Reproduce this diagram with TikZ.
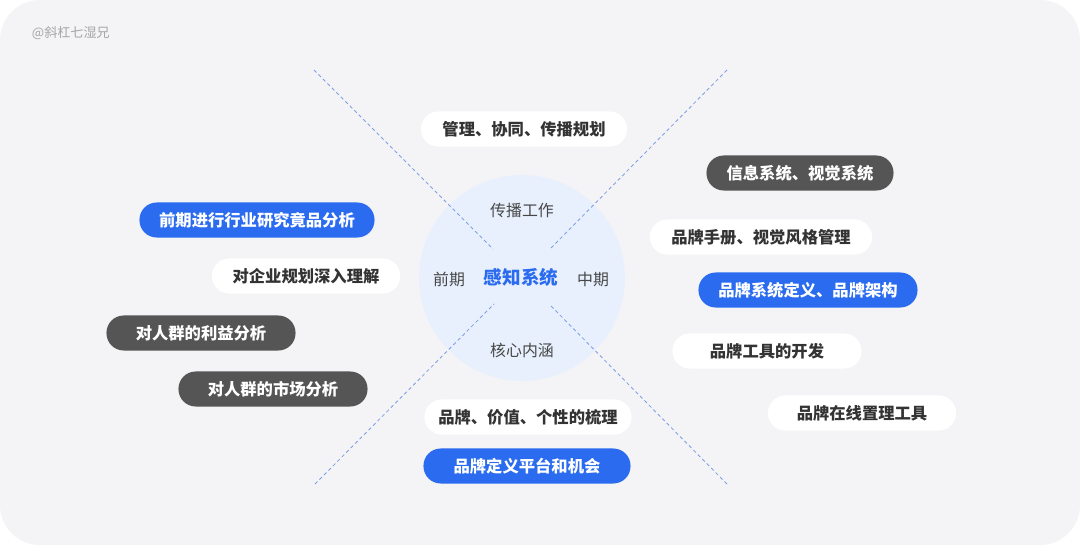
\documentclass[tikz,border=0pt]{standalone}
\usepackage{fontspec}
\setmainfont{Noto Sans CJK SC}
\usepackage{tikz}
\definecolor{bg}{HTML}{F4F4F6}
\definecolor{blu}{HTML}{2A6BEF}
\definecolor{drk}{HTML}{555555}
\definecolor{txt}{HTML}{333333}
\definecolor{ring}{HTML}{E8F0FD}
\definecolor{dashc}{HTML}{7E9FE4}

\begin{document}
\begin{tikzpicture}[x=0.025cm,y=-0.025cm,
	pill/.style={rounded corners=0.43cm,minimum height=0.875cm,inner sep=0pt,font=\fontsize{11.6}{12}\selectfont\bfseries},
	wpill/.style={pill,fill=white,text=txt},
	bpill/.style={pill,fill=blu,text=white},
	dpill/.style={pill,fill=drk,text=white},
	lbl/.style={text=txt!90,font=\fontsize{11.3}{12}\selectfont},
	spoke/.style={dashc,dashed,dash pattern=on 2.5pt off 2pt,line width=0.6pt}]
		\useasboundingbox (0,0) rectangle (1080,545);
		\fill[white] (0,0) rectangle (1080,545);
		\fill[bg,rounded corners=1cm] (0,0) rectangle (1080,545);
		\node[text=gray!70,font=\fontsize{9.3}{10}\selectfont,anchor=west] (mark) at (27,33) {@斜杠七湿兄};
		% center
		\node[circle,fill=ring,minimum size=5.15cm,inner sep=0pt] (hub) at (522,278) {};
		\coordinate (tl) at (314,70);
		\coordinate (tr) at (727,70);
		\coordinate (bl) at (315,484);
		\coordinate (br) at (727,484);
		\coordinate (tli) at (493,249);
		\coordinate (tri) at (551,248);
		\coordinate (bli) at (494,304);
		\coordinate (bri) at (551,306);
		\draw[spoke] (tl) -- (tli);
		\draw[spoke] (tr) -- (tri);
		\draw[spoke] (bl) -- (bli);
		\draw[spoke] (br) -- (bri);
		\node[text=blu,font=\fontsize{13.2}{14}\selectfont\bfseries] (core) at (521,277) {感知系统};
		\node[lbl] (top) at (522,210) {传播工作};
		\node[lbl] (left) at (449,279) {前期};
		\node[lbl] (right) at (593,279) {中期};
		\node[lbl] (bottom) at (522,350) {核心内涵};
		% top
		\node[wpill,minimum width=5.15cm] (t1) at (524,129) {管理、协同、传播规划};
		% left
		\node[bpill,minimum width=5.875cm] (l1) at (257,220) {前期进行行业研究竟品分析};
		\node[wpill,minimum width=4.7cm] (l2) at (306,276) {对企业规划深入理解};
		\node[dpill,minimum width=4.725cm] (l3) at (201,333) {对人群的利益分析};
		\node[dpill,minimum width=4.725cm] (l4) at (273,389) {对人群的市场分析};
		% right
		\node[dpill,minimum width=4.675cm] (r1) at (800,173) {信息系统、视觉系统};
		\node[wpill,minimum width=5.55cm] (r2) at (761,237) {品牌手册、视觉风格管理};
		\node[bpill,minimum width=5.475cm] (r3) at (808,290) {品牌系统定义、品牌架构};
		\node[wpill,minimum width=4.725cm] (r4) at (767,351) {品牌工具的开发};
		\node[wpill,minimum width=4.7cm] (r5) at (862,413) {品牌在线置理工具};
		% bottom
		\node[wpill,minimum width=5.175cm] (b1) at (528,417) {品牌、价值、个性的梳理};
		\node[bpill,minimum width=5.175cm] (b2) at (527,466) {品牌定义平台和机会};
	\end{tikzpicture}
\end{document}
